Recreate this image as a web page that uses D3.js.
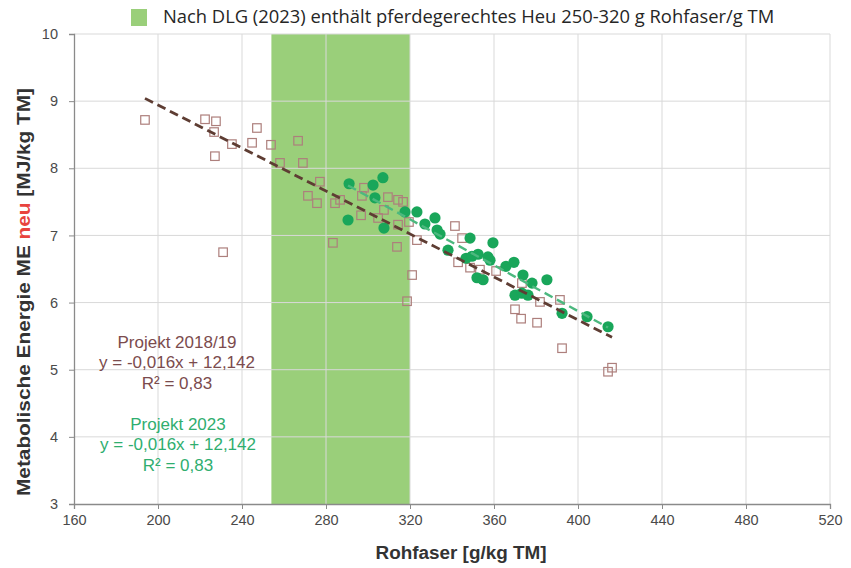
<!DOCTYPE html>
<html>
<head>
<meta charset="utf-8">
<script src="https://cdn.jsdelivr.net/npm/d3@7"></script>
<style>
  html, body { margin: 0; padding: 0; background: #fff; }
  svg { display: block; font-family: "Liberation Sans", Arial, sans-serif; }
</style>
</head>
<body>
<svg id="chart" width="851" height="568"></svg>
<script>
// Axis ticks
const xTicks = [160, 200, 240, 280, 320, 360, 400, 440, 480, 520];
const yTicks = [3, 4, 5, 6, 7, 8, 9, 10];

// DLG recommendation band for horse-suitable hay (Rohfaser, g/kg TM)
const dlgBand = [254, 320];

// Projekt 2018/19 samples
const rohfaser1819 = [193.8, 222.4, 227.6, 226.7, 227.1, 235.2, 247.1, 244.8, 253.8, 266.7,
  269.0, 258.1, 231.0, 277.1, 271.4, 275.7, 284.3, 286.7, 298.1, 297.1,
  296.7, 304.8, 307.6, 309.5, 314.3, 316.7, 314.3, 319.5, 283.3, 313.8,
  321.0, 318.6, 323.3, 341.4, 344.8, 342.9, 348.6, 353.3, 361.0, 373.3,
  381.9, 391.4, 370.0, 372.9, 380.5, 392.4, 414.3, 416.2];
const me1819 = [8.72, 8.73, 8.70, 8.54, 8.18, 8.36, 8.60, 8.38, 8.35, 8.41,
  8.08, 8.08, 6.75, 7.80, 7.59, 7.48, 7.48, 7.53, 7.71, 7.59,
  7.30, 7.26, 7.38, 7.57, 7.53, 7.50, 7.16, 7.20, 6.89, 6.83,
  6.41, 6.02, 6.93, 7.14, 6.96, 6.60, 6.52, 6.49, 6.47, 6.29,
  6.01, 6.04, 5.90, 5.76, 5.70, 5.32, 4.97, 5.03];

// Projekt 2023 samples
const rohfaser2023 = [291.0, 290.5, 302.4, 307.1, 303.3, 307.6, 317.6, 323.3, 327.1, 331.9,
  332.9, 334.3, 338.1, 348.6, 346.7, 349.5, 352.4, 357.1, 359.5, 358.1,
  351.9, 354.8, 365.7, 369.5, 373.8, 378.1, 385.2, 370.0, 373.3, 376.2,
  392.4, 404.3, 414.3];
const me2023 = [7.77, 7.23, 7.75, 7.86, 7.56, 7.11, 7.35, 7.35, 7.17, 7.26,
  7.08, 7.02, 6.78, 6.96, 6.66, 6.69, 6.72, 6.68, 6.89, 6.63,
  6.37, 6.34, 6.54, 6.60, 6.41, 6.29, 6.34, 6.11, 6.14, 6.11,
  5.84, 5.79, 5.64];

// Regression stated for Projekt 2018/19: slope, intercept
const trend1819 = [-0.016, 12.142];

// Annotation texts
const label1819 = ["Projekt 2018/19", "y = -0,016x + 12,142", "R² = 0,83"];
const label2023 = ["Projekt 2023", "y = -0,016x + 12,142", "R² = 0,83"];
const legendText = "Nach DLG (2023) enthält pferdegerechtes Heu 250-320 g Rohfaser/g TM";

// ---------------------------------------------------------------
const svg = d3.select("#chart");
const W = 851, H = 568;
const plot = { left: 74, right: 830, top: 34, bottom: 504 };

const x = d3.scaleLinear().domain([160, 520]).range([plot.left, plot.right]);
const y = d3.scaleLinear().domain([3, 10]).range([plot.bottom, plot.top]);

const bandColor = "#9acf7a";
const gridColor = "#d9d9d9";
const squareColor = "#ad7f7c";
const circleColor = "#19a65a";
const brownLine = "#5e3d33";
const greenLine = "#4cb87f";

svg.append("rect").attr("width", W).attr("height", H).attr("fill", "#fff");

// DLG band
svg.append("rect")
  .attr("x", x(dlgBand[0]))
  .attr("y", y(10))
  .attr("width", x(dlgBand[1]) - x(dlgBand[0]))
  .attr("height", y(3) - y(10))
  .attr("fill", bandColor);

// Gridlines
const grid = svg.append("g");
grid.selectAll("line.v").data(xTicks.slice(1)).join("line")
  .attr("x1", d => x(d)).attr("x2", d => x(d))
  .attr("y1", y(3)).attr("y2", y(10))
  .attr("stroke", gridColor).attr("stroke-width", 1);
grid.selectAll("line.h").data(yTicks.slice(1)).join("line")
  .attr("y1", d => y(d)).attr("y2", d => y(d))
  .attr("x1", x(160)).attr("x2", x(520))
  .attr("stroke", gridColor).attr("stroke-width", 1);

// Axes
const xAxis = svg.append("g")
  .attr("transform", `translate(0,${plot.bottom})`)
  .call(d3.axisBottom(x).tickValues(xTicks).tickSize(5).tickPadding(6).tickFormat(d3.format("d")));
const yAxis = svg.append("g")
  .attr("transform", `translate(${plot.left},0)`)
  .call(d3.axisLeft(y).tickValues(yTicks).tickSize(5).tickPadding(11).tickFormat(d3.format("d")));
[xAxis, yAxis].forEach(a => {
  a.select(".domain").attr("stroke", "#8a8a8a").attr("stroke-width", 1.3);
  a.selectAll(".tick line").attr("stroke", "#8a8a8a");
  a.selectAll(".tick text")
    .attr("fill", "#4a4a4a")
    .style("font-size", "14.5px")
    .style("font-family", '"Liberation Sans", Arial, sans-serif');
});

// Trend lines
function lineFit(xs, ys) {
  const mx = d3.mean(xs), my = d3.mean(ys);
  const sxy = d3.sum(xs, (v, i) => (v - mx) * (ys[i] - my));
  const sxx = d3.sum(xs, v => (v - mx) * (v - mx));
  const slope = sxy / sxx;
  return [slope, my - slope * mx];
}
const trend2023 = lineFit(rohfaser2023, me2023);

function drawTrend(coef, xs, color, width) {
  const ext = d3.extent(xs);
  svg.append("line")
    .attr("x1", x(ext[0])).attr("y1", y(coef[0] * ext[0] + coef[1]))
    .attr("x2", x(ext[1])).attr("y2", y(coef[0] * ext[1] + coef[1]))
    .attr("stroke", color).attr("stroke-width", width)
    .attr("stroke-dasharray", "9,5");
}

// Projekt 2018/19 squares
const sq = 8.5;
svg.append("g").selectAll("rect").data(d3.range(rohfaser1819.length)).join("rect")
  .attr("x", i => x(rohfaser1819[i]) - sq / 2)
  .attr("y", i => y(me1819[i]) - sq / 2)
  .attr("width", sq).attr("height", sq)
  .attr("fill", "none")
  .attr("stroke", squareColor).attr("stroke-width", 1.2);

// Projekt 2023 circles
svg.append("g").selectAll("circle").data(d3.range(rohfaser2023.length)).join("circle")
  .attr("cx", i => x(rohfaser2023[i]))
  .attr("cy", i => y(me2023[i]))
  .attr("r", 5.6)
  .attr("fill", circleColor);

drawTrend(trend1819, rohfaser1819, brownLine, 2.8);
drawTrend(trend2023, rohfaser2023, greenLine, 2.4);

// Equation annotations
function annotate(lines, cx, y0, color) {
  svg.append("g").selectAll("text").data(lines).join("text")
    .attr("x", cx).attr("y", (d, i) => y0 + i * 20.3)
    .attr("text-anchor", "middle")
    .attr("fill", color)
    .style("font-size", "17px")
    .text(d => d);
}
annotate(label1819, 177, 348, "#7b4b4d");
annotate(label2023, 178, 430, "#2fae6f");

// Legend
svg.append("rect").attr("x", 131).attr("y", 9).attr("width", 16).attr("height", 17).attr("fill", bandColor);
const lt = svg.append("text")
  .attr("x", 163).attr("y", 23)
  .attr("fill", "#262626")
  .style("font-family", '"Open Sans", "Noto Sans", sans-serif')
  .style("font-size", "16px")
  .text(legendText);
const lw = lt.node().getComputedTextLength();
lt.style("font-size", (16 * 612 / lw).toFixed(2) + "px");

// Axis titles (narrow bold lettering stretched along the axis)
svg.append("text")
  .attr("x", 461).attr("y", 559)
  .attr("text-anchor", "middle")
  .attr("fill", "#333")
  .attr("textLength", 171)
  .attr("lengthAdjust", "spacingAndGlyphs")
  .style("font-size", "17.5px")
  .style("font-weight", "bold")
  .text("Rohfaser [g/kg TM]");

const yt = svg.append("text")
  .attr("transform", "translate(30,292) rotate(-90)")
  .attr("text-anchor", "middle")
  .attr("fill", "#333")
  .attr("textLength", 408)
  .attr("lengthAdjust", "spacingAndGlyphs")
  .style("font-size", "17.5px")
  .style("font-weight", "bold");
yt.append("tspan").text("Metabolische Energie ME ");
yt.append("tspan").attr("fill", "#e8433e").text("neu");
yt.append("tspan").text(" [MJ/kg TM]");
</script>
</body>
</html>
